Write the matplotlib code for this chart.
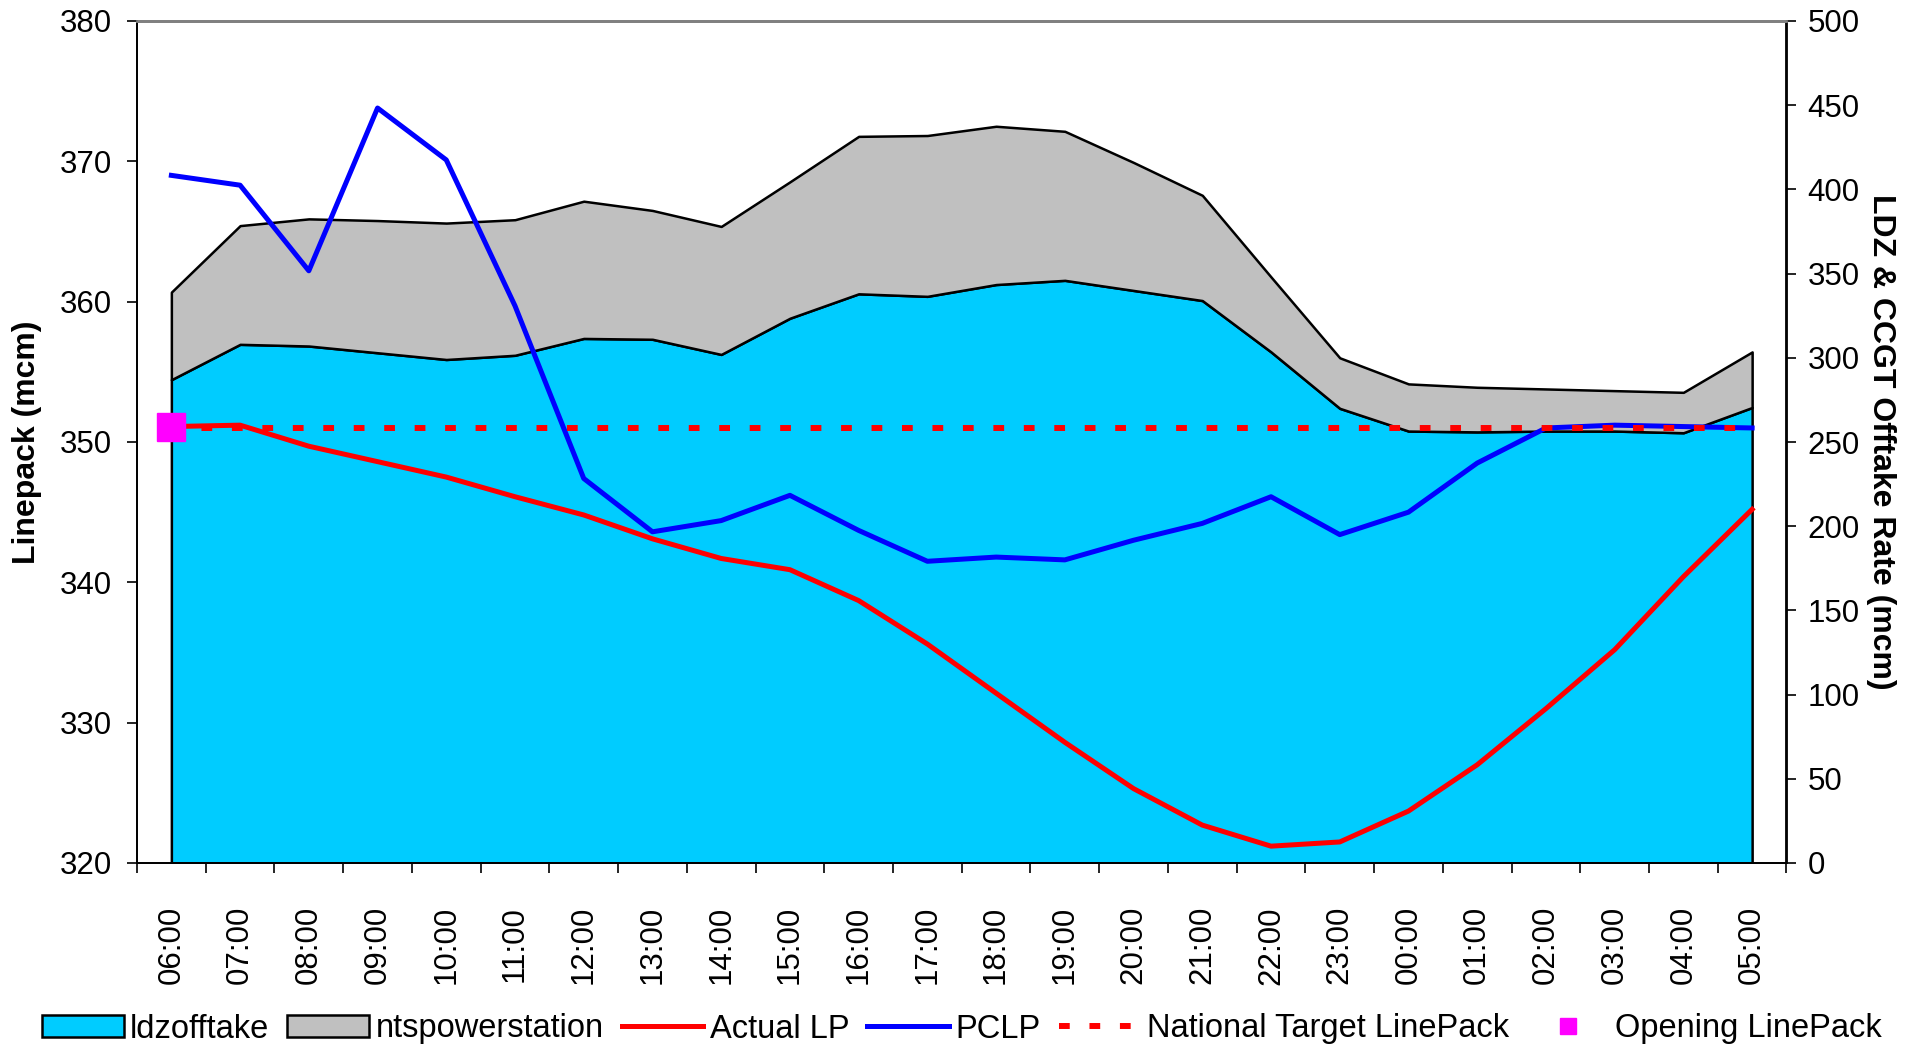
import numpy as np
import matplotlib
matplotlib.use("Agg")
import matplotlib.pyplot as plt
from matplotlib.ticker import MultipleLocator, FixedLocator

plt.rcParams['font.family'] = ['Liberation Sans', 'DejaVu Sans']

# ===== 資料 =====
hours = ["06:00", "07:00", "08:00", "09:00", "10:00", "11:00", "12:00", "13:00",
         "14:00", "15:00", "16:00", "17:00", "18:00", "19:00", "20:00", "21:00",
         "22:00", "23:00", "00:00", "01:00", "02:00", "03:00", "04:00", "05:00"]

# right axis (mcm) - stacked areas
ldzofftake = [287, 308, 307, 303, 299, 301.5, 311.5, 311, 302, 323.5, 338, 336.5,
              343.5, 346, 340, 334, 303.5, 270, 256.5, 256, 256.5, 256.5, 255.5, 270.5]
total_offtake = [339, 378.5, 382.5, 381.5, 380, 382, 393, 387.5, 378, 404.5, 431.5, 432,
                 437.5, 434.5, 416, 396.5, 348, 300, 284.5, 282.5, 281.5, 280.5, 279.5, 303.5]
ntspowerstation = [t - l for t, l in zip(total_offtake, ldzofftake)]

# left axis (mcm) - linepack
actual_lp = [351.1, 351.2, 349.7, 348.6, 347.5, 346.1, 344.8, 343.1, 341.7, 340.9, 338.7, 335.6,
             332.1, 328.6, 325.3, 322.7, 321.2, 321.5, 323.7, 327.0, 331.0, 335.2, 340.4, 345.2]
pclp = [369.0, 368.3, 362.2, 373.8, 370.1, 359.7, 347.4, 343.6, 344.4, 346.2, 343.7, 341.5,
        341.8, 341.6, 343.0, 344.2, 346.1, 343.4, 345.0, 348.5, 351.0, 351.2, 351.1, 351.0]
national_target = [351.0] * len(hours)
opening_lp = 351.1

x = np.arange(len(hours))

# ===== 繪圖 =====
W, H = 1916, 1047
fig = plt.figure(figsize=(W / 100, H / 100), dpi=100)
L, R, T, B = 137, 1786.5, 21, 863
ax = fig.add_axes([L / W, (H - B) / H, (R - L) / W, (B - T) / H])
ax2 = ax.twinx()

# areas on the right axis
polys = ax2.stackplot(x, ldzofftake, ntspowerstation,
                      colors=['#00CCFF', '#C0C0C0'],
                      labels=['ldzofftake', 'ntspowerstation'],
                      edgecolor='black', linewidth=1.8)
ax2.set_ylim(0, 500)
ax2.yaxis.set_major_locator(MultipleLocator(50))

# lines on the left axis
ln1, = ax.plot(x, actual_lp, color='#FF0000', lw=3.6, label='Actual LP')
ln2, = ax.plot(x, pclp, color='#0000FF', lw=3.6, label='PCLP')
ln3, = ax.plot(x, national_target, color='#FF0000', lw=4.3, linestyle=(0, (1.8, 3.3)),
               dash_capstyle='butt', label='National Target LinePack')
ln4, = ax.plot([x[0]], [opening_lp], linestyle='none', marker='s', markersize=20,
               color='#FF00FF', label='Opening LinePack')

ax.set_zorder(ax2.get_zorder() + 1)
ax.patch.set_visible(False)

ax.set_ylim(320, 380)
ax.yaxis.set_major_locator(MultipleLocator(10))
ax.set_xlim(-0.5, len(hours) - 0.5)

# category axis: labels at centres, tick marks between categories
ax.set_xticks(x)
ax.set_xticklabels(hours, rotation=90)
ax.xaxis.set_minor_locator(FixedLocator(np.arange(-0.5, len(hours), 1.0)))
ax.tick_params(axis='x', which='major', length=0, pad=31, labelsize=22.5)
ax.tick_params(axis='x', which='minor', length=7, width=1.2, direction='out')
ax.tick_params(axis='y', length=7, width=1.2, pad=11, labelsize=22.5)
ax2.tick_params(axis='y', length=7, width=1.2, pad=8, labelsize=22.5)

for a in (ax, ax2):
    a.spines['top'].set_color('#808080')
    a.spines['top'].set_linewidth(2)
    a.spines['left'].set_linewidth(1.3)
    a.spines['right'].set_linewidth(1.3)
    a.spines['bottom'].set_linewidth(1.3)

fig.text(27 / W, 1 - 442 / H, 'Linepack (mcm)', rotation=90, ha='center', va='center',
         fontsize=23, fontweight='bold')
fig.text(1881 / W, 1 - 442 / H, 'LDZ & CCGT Offtake Rate (mcm)', rotation=270,
         ha='center', va='center', fontsize=23, fontweight='bold')

handles = list(polys) + [ln1, ln2, ln3, ln4]
fig.legend(handles=handles, loc='center', bbox_to_anchor=(0.502, 1 - 1029 / H),
           ncol=6, frameon=False, fontsize=23.5, handlelength=2.5, handleheight=0.65,
           handletextpad=0.2, columnspacing=0.55, markerscale=0.6)

fig.savefig('out.png', dpi=100)
